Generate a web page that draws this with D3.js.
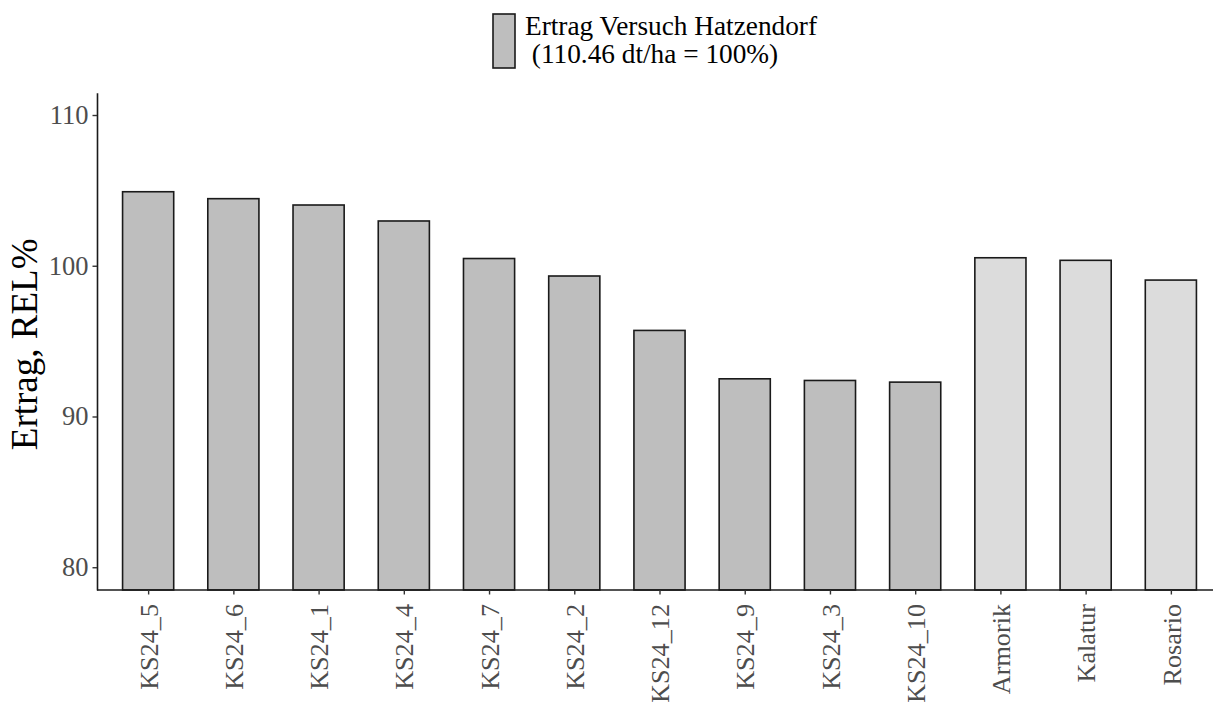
<!DOCTYPE html>
<html>
<head>
<meta charset="utf-8">
<script src="https://cdn.jsdelivr.net/npm/d3@7"></script>
<style>
    body { margin: 0; background: #ffffff; }
    svg { display: block; font-family: 'Liberation Serif', 'Times New Roman', serif; }
</style>
</head>
<body>
<div id="chart"></div>
<script>
// values (relative yield, %)
const varieties = ['KS24_5', 'KS24_6', 'KS24_1', 'KS24_4', 'KS24_7', 'KS24_2', 'KS24_12', 'KS24_9', 'KS24_3', 'KS24_10', 'Armorik', 'Kalatur', 'Rosario'];
const relYield = [104.91, 104.45, 104.03, 102.97, 100.48, 99.32, 95.71, 92.50, 92.39, 92.28, 100.53, 100.36, 99.05];
const groupOf = ['line', 'line', 'line', 'line', 'line', 'line', 'line', 'line', 'line', 'line', 'check', 'check', 'check'];
const yTicks = [80, 90, 100, 110];
const legendLines = ['Ertrag Versuch Hatzendorf', ' (110.46 dt/ha = 100%)'];
const yTitle = 'Ertrag, REL%';

const width = 1213;
const height = 702;
const fills = { line: '#bebebe', check: '#dcdcdc' };

const svg = d3.select('#chart')
    .append('svg')
    .attr('width', width)
    .attr('height', height);

const data = varieties.map((v, i) => ({ name: v, value: relYield[i], group: groupOf[i] }));

// panel runs past the right edge of the image, like in the original
const xScale = d3.scalePoint()
    .domain(varieties)
    .range([97, 1222])
    .padding(0.6);
const barW = xScale.step() * 0.6;

const yScale = d3.scaleLinear()
    .domain([78.49, 111.48])
    .range([590, 92.7]);

const baseY = yScale.range()[0];

svg.append('g')
    .selectAll('rect')
    .data(data)
    .join('rect')
    .attr('x', (d) => xScale(d.name) - barW / 2)
    .attr('y', (d) => yScale(d.value))
    .attr('width', barW)
    .attr('height', (d) => baseY - yScale(d.value))
    .attr('fill', (d) => fills[d.group])
    .attr('stroke', '#1a1a1a')
    .attr('stroke-width', 1.6);

/* s: axes */
const yAxis = svg.append('g')
    .attr('transform', 'translate(97,0)')
    .call(d3.axisLeft(yScale).tickValues(yTicks).tickSize(4.5).tickPadding(4).tickSizeOuter(0));
yAxis.select('.domain').attr('stroke', '#1a1a1a').attr('stroke-width', 1.6);
yAxis.selectAll('.tick line').attr('stroke', '#333333').attr('stroke-width', 1.4);
yAxis.selectAll('.tick text')
    .attr('fill', '#4d4d4d')
    .attr('font-size', 26.5)
    .attr('font-family', "'Liberation Serif', serif");

const xAxis = svg.append('g')
    .attr('transform', `translate(0,${baseY})`)
    .call(d3.axisBottom(xScale).tickSize(4.5).tickSizeOuter(0));
xAxis.select('.domain')
    .attr('d', `M97,0H${width}`)
    .attr('stroke', '#1a1a1a')
    .attr('stroke-width', 1.6);
xAxis.selectAll('.tick line').attr('stroke', '#333333').attr('stroke-width', 1.4);
xAxis.selectAll('.tick text')
    .attr('fill', '#4d4d4d')
    .attr('font-size', 26.2)
    .attr('font-family', "'Liberation Serif', serif")
    .attr('transform', 'rotate(-90)')
    .attr('x', -14)
    .attr('y', 0)
    .attr('dy', '0.35em')
    .attr('text-anchor', 'end');
/* e: axes */

svg.append('text')
    .attr('transform', `translate(37,${(yScale.range()[0] + yScale.range()[1]) / 2 + 3}) rotate(-90)`)
    .attr('text-anchor', 'middle')
    .attr('font-size', 37)
    .attr('fill', '#000000')
    .text(yTitle);

// legend
const legend = svg.append('g');
legend.append('rect')
    .attr('x', 493)
    .attr('y', 14)
    .attr('width', 22)
    .attr('height', 54)
    .attr('fill', fills.line)
    .attr('stroke', '#1a1a1a')
    .attr('stroke-width', 1.6);
legend.selectAll('text')
    .data(legendLines)
    .join('text')
    .attr('x', 525)
    .attr('y', (d, i) => 35 + i * 28)
    .attr('font-size', 27.3)
    .attr('fill', '#000000')
    .attr('xml:space', 'preserve')
    .style('white-space', 'pre')
    .text((d) => d);
</script>
</body>
</html>
